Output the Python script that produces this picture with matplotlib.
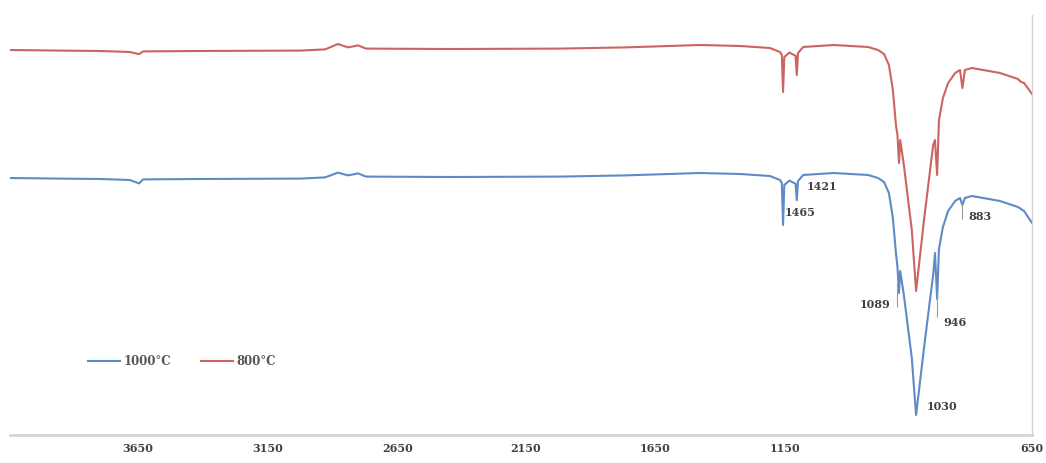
import numpy as np
import matplotlib
matplotlib.use("Agg")
import matplotlib.pyplot as plt

# --- DATA : FTIR spectra
wavenumber = [4000, 3836, 3705, 3607, 3577, 3564, 3377, 3049, 2967, 2925, 2892, 2859, 2833,
              2558, 2197, 1984, 1738, 1607, 1509, 1476, 1470, 1466, 1462, 1445, 1425, 1421,
              1417, 1400, 1300, 1187, 1155, 1135, 1119, 1106, 1096, 1091, 1086, 1082, 1070,
              1044, 1030, 1004, 984, 974, 968, 961, 955, 942, 925, 902, 886, 878, 870, 847,
              755, 696, 686, 676, 650]

t_800 = [96.25, 96.1, 96.0, 95.75, 95.2, 95.9, 96.0, 96.1, 96.4, 97.75, 96.9, 97.4, 96.6,
         96.5, 96.6, 96.9, 97.5, 97.25, 96.75, 95.75, 95.0, 85.75, 94.5, 95.6, 94.8, 90.0,
         95.5, 97.0, 97.5, 97.0, 96.25, 95.25, 92.5, 86.25, 77.5, 75.0, 68.0, 73.75, 67.5,
         51.25, 36.0, 53.75, 66.25, 72.5, 73.75, 65.0, 78.75, 84.25, 88.0, 90.5, 91.25, 86.75,
         91.25, 91.75, 90.5, 89.0, 88.25, 88.0, 85.25]

t_1000 = [64.25, 64.1, 64.0, 63.75, 62.9, 63.9, 64.0, 64.1, 64.4, 65.6, 64.9, 65.4, 64.6,
          64.5, 64.6, 64.9, 65.5, 65.25, 64.75, 63.75, 63.0, 52.5, 62.5, 63.6, 62.8, 58.7,
          63.5, 65.0, 65.5, 65.0, 64.25, 63.25, 60.5, 54.25, 45.5, 42.0, 35.5, 41.0, 35.0,
          19.25, 5.0, 21.75, 34.0, 40.0, 45.5, 34.0, 46.5, 52.0, 56.0, 58.5, 59.25, 57.5,
          59.25, 59.75, 58.5, 57.0, 56.5, 56.0, 53.0]

# tick labels as printed under the axis, and where they sit
tick_pos = [3580, 3154, 2731, 2309, 1886, 1460, 650]
tick_lab = ["3650", "3150", "2650", "2150", "1650", "1150", "650"]

# peak labels on the 1000C curve
peak_lab = ["1465", "1421", "1089", "946", "1030", "883"]
peak_x = [1460, 1387, 1115, 942, 994, 860]
peak_y = [55.5, 62.0, 32.5, 28.0, 7.0, 54.5]
peak_ha = ["left", "left", "right", "left", "left", "left"]

# leader lines (x, y top, y bottom)
lead_x = [1092, 961, 878]
lead_y0 = [38.0, 35.5, 58.0]
lead_y1 = [32.0, 29.5, 54.0]

# --- PLOT
fig = plt.figure(figsize=(10.46, 4.63), dpi=100)
ax = fig.add_axes([10 / 1046, 28 / 463, 1022 / 1046, 420 / 463])

ax.plot(wavenumber, t_1000, color="#5f8ac4", lw=1.5, label="1000\u00b0C")
ax.plot(wavenumber, t_800, color="#cc6461", lw=1.5, label="800\u00b0C")

ax.vlines(lead_x, lead_y1, lead_y0, color="#9a9a9a", lw=0.8)

for s, x, y, ha in zip(peak_lab, peak_x, peak_y, peak_ha):
    ax.text(x, y, s, ha=ha, va="center", fontsize=8, fontweight="bold",
            family="DejaVu Serif", color="#404040")

ax.set_xlim(4000, 650)
ax.set_ylim(0, 105)
ax.set_xticks(tick_pos)
ax.set_xticklabels(tick_lab, fontsize=8, fontweight="bold",
                   family="DejaVu Serif", color="#404040")
ax.tick_params(axis="x", length=0, pad=6)
ax.set_yticks([])

for side in ["top", "left"]:
    ax.spines[side].set_visible(False)
ax.spines["bottom"].set_color("#d4d4d4")
ax.spines["bottom"].set_linewidth(2)
ax.spines["right"].set_color("#d4d4d4")
ax.spines["right"].set_linewidth(1)

leg = ax.legend(loc="center left", bbox_to_anchor=(0.076, 0.174), ncol=2, frameon=False,
                borderaxespad=0, borderpad=0, handlelength=2.7, handletextpad=0.3,
                columnspacing=2.6, prop={"family": "DejaVu Serif", "weight": "bold", "size": 8.5})
for t in leg.get_texts():
    t.set_color("#555555")

plt.savefig("out.png", dpi=100)
